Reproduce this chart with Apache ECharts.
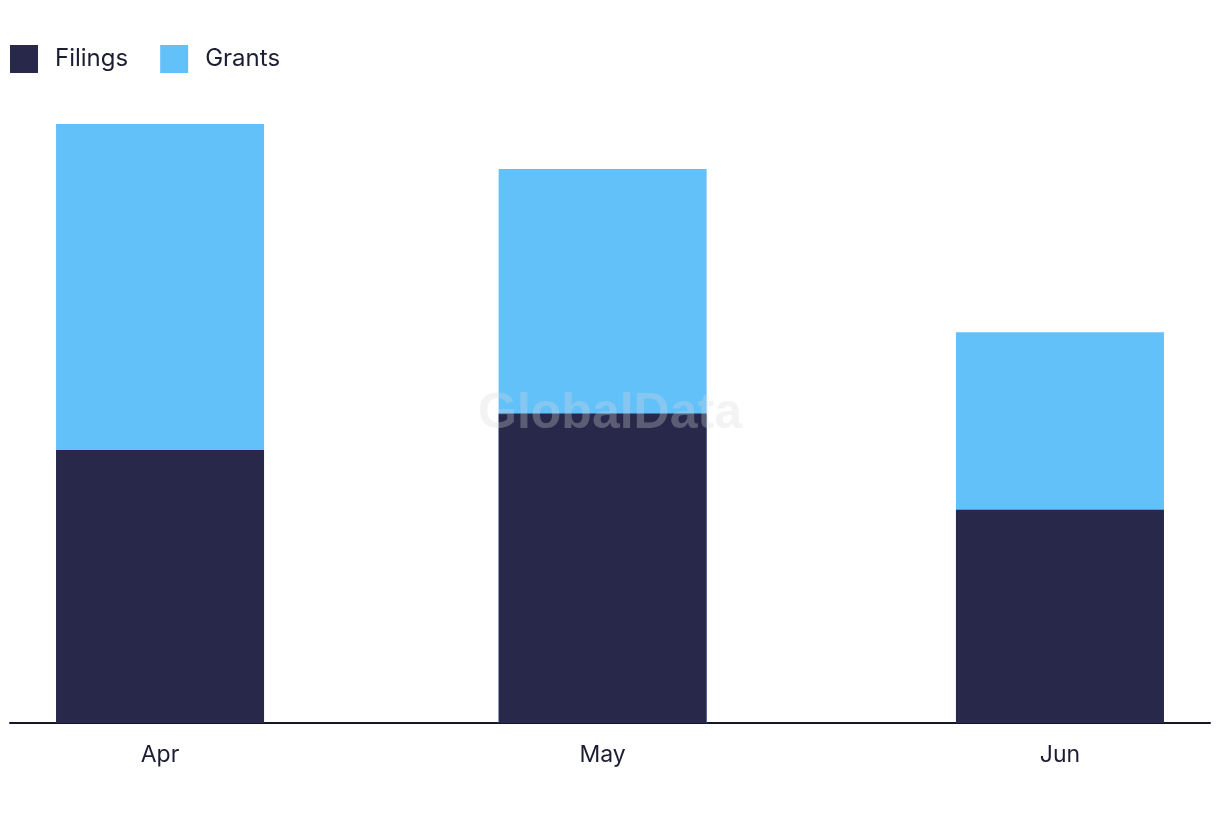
<!DOCTYPE html>
<html>
<head>
<meta charset="utf-8">
<script src="https://cdn.jsdelivr.net/npm/echarts@6/dist/echarts.min.js"></script>
<style>
html,body{margin:0;padding:0;background:#fff;}
#chart{width:1220px;height:822px;}
</style>
</head>
<body>
<div id="chart"></div>
<script>
// Data
const categories = ['2024-04-01', '2024-05-01', '2024-06-01'];
const tickLabels = ['Apr', 'May', 'Jun'];
const filings = [54.7, 62, 42.7];
const grants = [65.3, 49, 35.6];

const DAY = 86400000;
const ts = categories.map(d => Date.parse(d + 'T00:00:00Z'));
const xMin = ts[0] - 10.17 * DAY;
const xMax = ts[2] + 10.17 * DAY;
const labelMap = {};
ts.forEach((t, i) => { labelMap[t] = tickLabels[i]; });
// stacked tops (Grants sit on top of Filings)
const totals = filings.map((f, i) => f + grants[i]);

const chart = echarts.init(document.getElementById('chart'), null, {renderer: 'canvas'});
const font = 'Inter, "Noto Sans", sans-serif';
chart.setOption({
  animation: false,
  backgroundColor: '#ffffff',
  legend: {
    left: 10, top: 45, padding: 0,
    itemWidth: 28, itemHeight: 28,
    itemGap: 32,
    icon: 'rect',
    textStyle: {fontFamily: font, fontSize: 24, color: '#1c1d33', padding: [0, 0, 0, 12]},
    data: ['Filings', 'Grants']
  },
  grid: {left: 10, right: 10, top: 124, bottom: 99, containLabel: false},
  xAxis: {
    type: 'value',
    min: xMin, max: xMax,
    axisLine: {show: true, lineStyle: {color: '#14152a', width: 2}},
    axisTick: {show: false},
    splitLine: {show: false},
    axisLabel: {
      customValues: ts,
      formatter: v => labelMap[v] || '',
      fontFamily: font, fontSize: 23, color: '#1c1d33', margin: 21
    }
  },
  yAxis: {type: 'value', min: 0, max: 120, show: false, splitLine: {show: false}},
  series: [
    {name: 'Grants', type: 'bar', barWidth: 208, barGap: '-100%', z: 1,
     itemStyle: {color: '#62c1f9'},
     data: ts.map((t, i) => [t, totals[i]])},
    {name: 'Filings', type: 'bar', barWidth: 208, barGap: '-100%', z: 2,
     itemStyle: {color: '#27284a'},
     data: ts.map((t, i) => [t, filings[i]])}
  ],
  graphic: [{
    type: 'text', left: 'center', top: 389, z: 100,
    style: {text: 'GlobalData', font: 'bold 50px "Liberation Sans", Arial, sans-serif',
            fill: 'rgba(215,215,220,0.3)'}
  }]
});
</script>
</body>
</html>
